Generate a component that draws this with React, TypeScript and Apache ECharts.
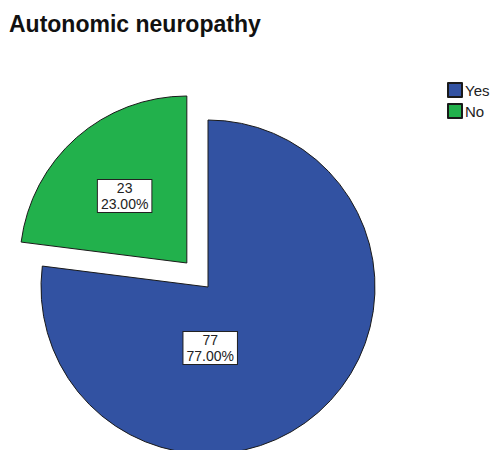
import React, { useEffect, useRef } from "react";
import * as echarts from "echarts";

const categories = ["Yes", "No"];
const counts = [77, 23];
const colors = ["#3252A2", "#22B14C"];
const exploded = [false, true];
// label shift (px) relative to ECharts' "inside" position, to mimic SPSS label placement
const labelShift = [
  [-55, -4],
  [-5, -2],
];

export default function App() {
  const ref = useRef<HTMLDivElement>(null);
  useEffect(() => {
    if (!ref.current) return;
    const chart = echarts.init(ref.current, null, { renderer: "svg" });
    const font = "'Liberation Sans', Arial, sans-serif";
    chart.setOption({
      animation: false,
      backgroundColor: "#ffffff",
      title: {
        text: "Autonomic neuropathy",
        left: 4,
        top: 7,
        textStyle: {
          fontFamily: font,
          fontSize: 23,
          fontWeight: "bold",
          color: "#111",
        },
      },
      legend: {
        data: categories,
        orient: "vertical",
        left: 442,
        top: 77,
        itemWidth: 14,
        itemHeight: 14,
        itemGap: 5,
        icon: "rect",
        selectedMode: false,
        textStyle: { fontFamily: font, fontSize: 15, color: "#222", padding: [0, 0, 0, -2] },
      },
      series: [
        {
          type: "pie",
          center: [208, 287],
          radius: [0, 167],
          startAngle: 90,
          clockwise: true,
          selectedMode: "multiple",
          selectedOffset: 32,
          avoidLabelOverlap: false,
          emphasis: { disabled: true },
          itemStyle: { borderColor: "#1a1a1a", borderWidth: 1 },
          label: {
            show: true,
            position: "inside",
            formatter: (p: any) => `${p.value}\n${p.percent.toFixed(2)}%`,
            fontFamily: font,
            fontSize: 14,
            lineHeight: 16,
            color: "#222",
            align: "center",
            backgroundColor: "#ffffff",
            borderColor: "#222",
            borderWidth: 1,
            padding: [0, 3, 0, 3],
          },
          labelLayout: (params: any) => {
            const s = labelShift[params.dataIndex] || [0, 0];
            return { dx: s[0], dy: s[1] };
          },
          labelLine: { show: false },
          data: categories.map((name, i) => ({
            name,
            value: counts[i],
            selected: exploded[i],
            itemStyle: { color: colors[i] },
          })),
        },
      ],
    });
    return () => chart.dispose();
  }, []);
  return (
    <div
      ref={ref}
      style={{ position: "absolute", left: 0, top: 0, width: 495, height: 450 }}
    />
  );
}
